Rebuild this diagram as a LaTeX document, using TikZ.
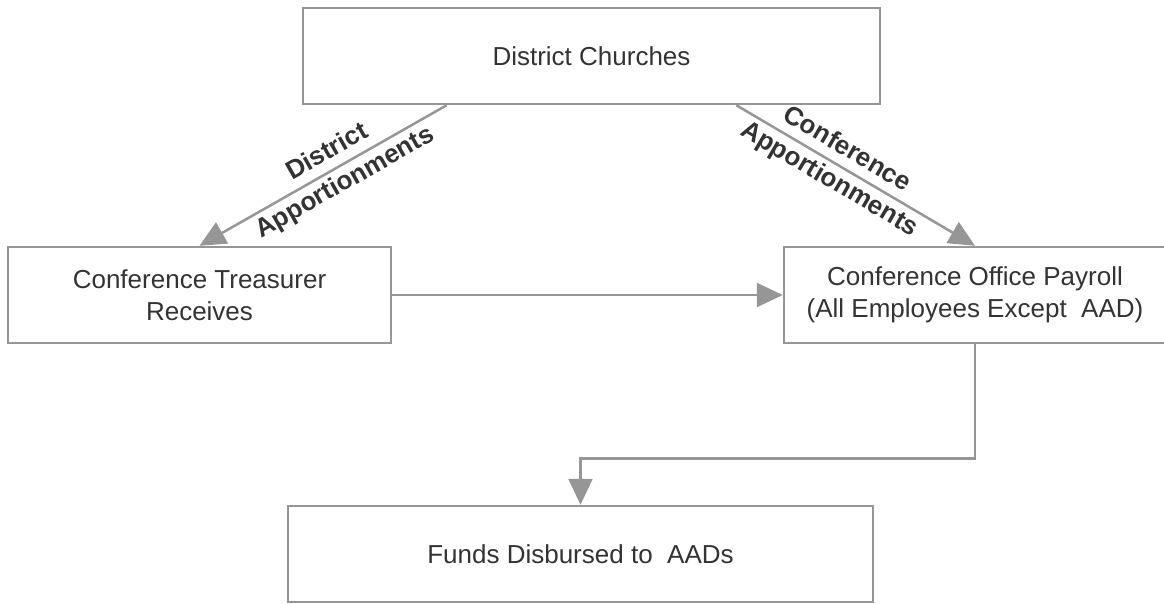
\documentclass[tikz,border=0pt]{standalone}
\usepackage{fontspec}
\setmainfont{Liberation Sans}
\usetikzlibrary{arrows.meta,calc}
\definecolor{linegray}{RGB}{150,150,150}
\definecolor{textgray}{RGB}{51,51,51}
\begin{document}
\begin{tikzpicture}[x=1pt,y=-1pt,
  box/.style={draw=linegray,line width=2.5pt,fill=white,inner sep=0pt,
    text=textgray,align=center,font=\fontsize{26}{32}\selectfont},
  conn/.style={draw=linegray,line width=2.5pt,
    -{Triangle[length=26pt,width=24pt]},color=linegray},
  lbl/.style={text=textgray,align=center,sloped,inner sep=0pt,
    font=\bfseries\fontsize{26}{35}\selectfont}]
\useasboundingbox (0,0) rectangle (1164,603);
\clip (0,0) rectangle (1164,603);
\node[box,minimum width=577pt,minimum height=96pt] (dc) at (591.5,56) {District Churches};
\node[box,minimum width=383pt,minimum height=96pt] (ct) at (199.5,295) {Conference Treasurer\\Receives};
\node[box,minimum width=382pt,minimum height=96pt] (cop) at (975,295) {Conference Office Payroll\\(All Employees Except\ \ AAD)};
\node[box,minimum width=585pt,minimum height=96pt] (fd) at (580.5,554) {Funds Disbursed to\ \ AADs};
\draw[conn] ($(dc.south west)!0.25!(dc.south east)$) -- (ct.north)
  node[lbl,pos=0.446] {District\\Apportionments};
\draw[conn] ($(dc.south west)!0.75!(dc.south east)$) -- (cop.north)
  node[lbl,pos=0.425] {Conference\\Apportionments};
\draw[conn] (ct.east) -- (cop.west);
\draw[conn] (cop.south) -- ++(0,114) -| (fd.north);
\end{tikzpicture}
\end{document}
